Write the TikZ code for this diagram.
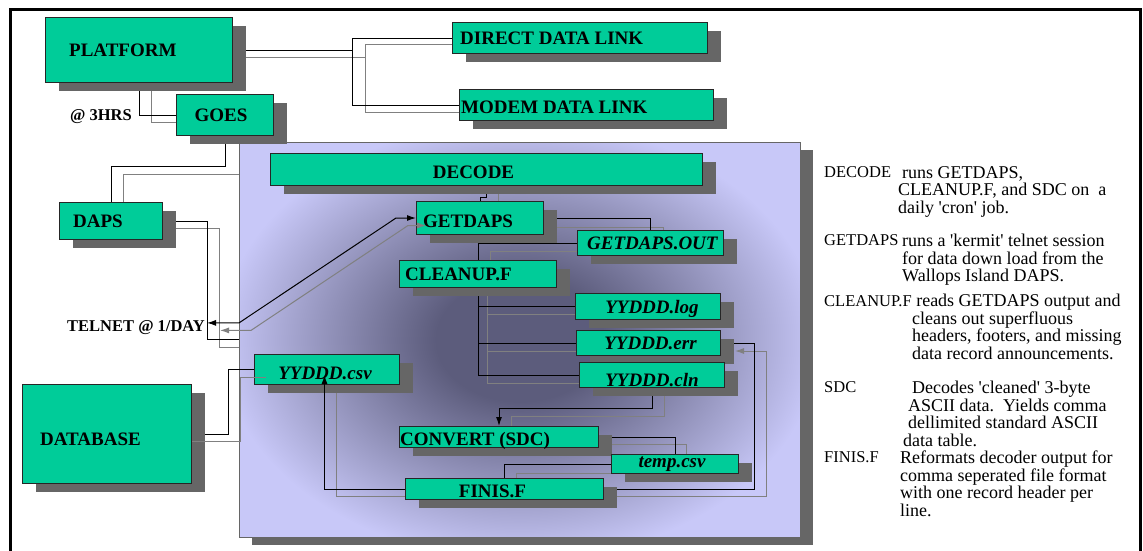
\documentclass[tikz,border=0pt]{standalone}
\usepackage{fontspec}
\setmainfont{Liberation Serif}
\usetikzlibrary{calc,shadows,arrows.meta}

\definecolor{boxgreen}{RGB}{0,204,153}
\definecolor{shadowgray}{RGB}{102,102,102}
\definecolor{lavender}{RGB}{200,200,248}
\definecolor{coredark}{RGB}{92,92,124}
\definecolor{echogray}{RGB}{128,128,128}
\pgfdeclareradialshading{coreglow}{\pgfpointorigin}{color(0bp)=(coredark); color(7bp)=(coredark); color(25bp)=(lavender); color(50bp)=(lavender)}

\pgfdeclarelayer{back}
\pgfdeclarelayer{lines}
\pgfsetlayers{back,lines,main}

\tikzset{
  box/.style={draw=black!85, line width=1pt, fill=boxgreen, inner sep=0pt, anchor=north west,
    drop shadow={shadow xshift=13pt, shadow yshift=-8pt, fill=shadowgray, opacity=1}},
  panel/.style={draw=black!60, line width=0.8pt, fill=lavender, inner sep=0pt, anchor=north west,
    minimum width=561pt, minimum height=395pt,
    drop shadow={shadow xshift=13pt, shadow yshift=-8pt, fill=shadowgray, opacity=1},
    path picture={\shade[shading=coreglow] (path picture bounding box.center) ellipse [x radius=300pt, y radius=220pt];}},
  lab/.style={inner sep=0pt, text height=13pt, text depth=0pt, font=\fontsize{19}{19}\selectfont\bfseries},
  ilab/.style={lab, font=\fontsize{19}{19}\selectfont\bfseries\itshape},
  tag/.style={inner sep=0pt, text height=11pt, text depth=0pt, font=\fontsize{16.5}{16.5}\selectfont\bfseries},
  note/.style={inner sep=0pt, anchor=north west, align=left, font=\fontsize{18}{17.5}\selectfont},
  term/.style={note, font=\fontsize{16.5}{17.5}\selectfont},
  wire/.style={draw=black, line width=1pt},
  echo/.style={draw=echogray, line width=1pt},
}

\begin{document}
\begin{tikzpicture}[x=1pt, y=-1pt, >={Latex[length=9pt,width=6pt]}]
    \useasboundingbox (0,0) rectangle (1143,550);

    % Frame
    \draw[line width=3pt] (10,553) -- (10,9) -- (1140,9) -- (1140,553);

    % Processing panel
    \begin{pgfonlayer}{back}
    \node[panel] (core) at (239,142) {};
    \end{pgfonlayer}

    % Acquisition boxes
    \node[box, minimum width=187pt, minimum height=65pt] (plat) at (45,17) {};
    \node[lab, anchor=west] (platT) at ([xshift=24pt]plat.west) {PLATFORM};
    \node[box, minimum width=97pt, minimum height=41pt] (goes) at (176,94) {};
    \node[lab] (goesT) at ([xshift=-4pt]goes.center) {GOES};
    \node[box, minimum width=103pt, minimum height=37pt] (daps) at (59,202) {};
    \node[lab, anchor=west] (dapsT) at ([xshift=14pt]daps.west) {DAPS};
    \node[box, minimum width=255pt, minimum height=31pt] (direct) at (452,22) {};
    \node[lab, anchor=west] (directT) at ([xshift=8pt]direct.west) {DIRECT DATA LINK};
    \node[box, minimum width=254pt, minimum height=31pt] (modem) at (459,89) {};
    \node[lab, anchor=west] (modemT) at ([xshift=2pt,yshift=-1.5pt]modem.west) {MODEM DATA LINK};
    \node[box, minimum width=169pt, minimum height=99pt] (dbase) at (22,384) {};
    \node[lab, anchor=west] (dbaseT) at ([xshift=18pt,yshift=-5pt]dbase.west) {DATABASE};
    \node[tag, anchor=east] (hrs) at (132,115) {@ 3HRS};
    \node[tag, anchor=east] (telnet) at (205,326) {TELNET @ 1/DAY};

    % Decoder boxes
    \node[box, minimum width=432pt, minimum height=32pt] (decode) at (270,153) {};
    \node[lab] (decodeT) at ([xshift=-13pt,yshift=-2pt]decode.center) {DECODE};
    \node[box, minimum width=127pt, minimum height=33pt] (getdaps) at (416,201) {};
    \node[lab, anchor=west] (getdapsT) at ([xshift=7pt,yshift=-3pt]getdaps.west) {GETDAPS};
    \node[box, minimum width=146pt, minimum height=25pt] (gout) at (577,230) {};
    \node[ilab, anchor=west] (goutT) at ([xshift=10pt]gout.west) {GETDAPS.OUT};
    \node[box, minimum width=157pt, minimum height=27pt] (cleanup) at (399,260) {};
    \node[lab, anchor=west] (cleanupT) at ([xshift=6pt]cleanup.west) {CLEANUP.F};
    \node[box, minimum width=145pt, minimum height=26pt] (ylog) at (575,293) {};
    \node[ilab] (ylogT) at ([xshift=4pt]ylog.center) {YYDDD.log};
    \node[box, minimum width=144pt, minimum height=25pt] (yerr) at (576,330) {};
    \node[ilab] (yerrT) at ([xshift=2pt]yerr.center) {YYDDD.err};
    \node[box, minimum width=145pt, minimum height=25pt] (ycln) at (579,362) {};
    \node[ilab] (yclnT) at ([yshift=-5pt]ycln.center) {YYDDD.cln};
    \node[box, minimum width=145pt, minimum height=30pt] (ycsv) at (254,354) {};
    \node[ilab] (ycsvT) at ([xshift=-2pt,yshift=-3pt]ycsv.center) {YYDDD.csv};
    \node[box, minimum width=199pt, minimum height=21pt] (convert) at (399,426) {};
    \node[lab, anchor=west] (convertT) at ([xshift=1pt,yshift=-1.5pt]convert.west) {CONVERT (SDC)};
    \node[box, minimum width=127pt, minimum height=19pt] (tempcsv) at (611,454) {};
    \node[ilab] (tempcsvT) at ([xshift=-3pt,yshift=3pt]tempcsv.center) {temp.csv};
    \node[box, minimum width=198pt, minimum height=21pt] (finis) at (405,478) {};
    \node[lab] (finisT) at ([xshift=-12pt,yshift=-2pt]finis.center) {FINIS.F};

    \coordinate (bus) at (352,0);

    % Connectors behind the boxes
    \begin{pgfonlayer}{lines}
    % platform to the data links
    \draw[echo] ($(plat.east)+(0,7.5)$) -- ++(133,0);
    \draw[echo] ($(direct.west)+(0,6)$) -| ($(modem.west)+(-94,7.5)$) -- ($(modem.west)+(0,7.5)$);
    \draw[wire] (plat.east) -- (plat.east -| bus);
    \draw[wire] (direct.west) -| (bus |- modem.west) -- (modem.west);
    % platform to goes
    \draw[echo] ($(plat.south)+(12,0)$) |- ($(goes.west)+(0,7.5)$);
    \draw[wire] (plat.south) |- (goes.west);
    % goes to daps
    \draw[echo] ($(core.north west)+(0,32)$) -| ($(daps.north)+(12,0)$);
    \draw[wire] (goes.south) |- ($(daps.north)+(0,-36)$) -- (daps.north);
    % daps to panel
    \draw[echo] ($(daps.east)+(0,7.5)$) -| ($(core.west)+(-20,7.5)$) -- ($(core.west)+(0,7.5)$);
    \draw[wire] (daps.east) -| ($(core.west)+(-32,0)$) -- (core.west);
    % database to csv
    \draw[wire] (dbase.east) -| ($(ycsv.west)+(-26,0)$) -- (ycsv.west);
    % decode to getdaps
    \draw[echo] ($(decode.south)+(12,0)$) -- ($(getdaps.north)+(18.5,0)$);
    \draw[wire] (decode.south) |- ($(getdaps.north)+(0,-4)$) -- (getdaps.north);
    % getdaps to its output
    \draw[echo] ($(getdaps.east)+(0,9)$) -| ($(gout.north)+(13,0)$);
    \draw[wire] (getdaps.east) -| (gout.north);
    % output to cleanup
    \draw[echo] ($(gout.west)+(0,8)$) -| ($(cleanup.north)+(12,0)$);
    \draw[wire] (gout.west) -| (cleanup.north);
    % cleanup to the day files
    \draw[echo] ($(cleanup.south)+(9,0)$) |- ($(ylog.west)+(0,8)$);
    \draw[echo] ($(cleanup.south)+(9,0)$) |- ($(yerr.west)+(0,8)$);
    \draw[echo] ($(cleanup.south)+(9,0)$) |- ($(ycln.west)+(0,8)$);
    \draw[wire] (cleanup.south) |- (ylog.west);
    \draw[wire] (cleanup.south) |- (yerr.west);
    \draw[wire] (cleanup.south) |- (ycln.west);
    % cln to convert
    \draw[echo] ($(ycln.south)+(12,0)$) |- ($(convert.north)+(12,-10)$) -- ($(convert.north)+(12,0)$);
    \draw[wire, ->] (ycln.south) |- ($(convert.north)+(0,-18)$) -- (convert.north);
    % convert to temp
    \draw[echo] ($(convert.east)+(0,7.5)$) -| ($(tempcsv.north)+(11,0)$);
    \draw[wire] (convert.east) -| (tempcsv.north);
    % temp to finis
    \draw[echo] ($(tempcsv.west)+(0,9)$) -| ($(finis.north)+(12,0)$);
    \draw[wire] (tempcsv.west) -| (finis.north);
    % finis back to csv and err
    \draw[echo] ($(finis.west)+(0,7.5)$) -| ($(ycsv.south)+(9.5,0)$);
    \draw[echo, ->] ($(finis.east)+(0,7.5)$) -| ($(yerr.east)+(45,8)$) -- ($(yerr.east)+(14,8)$);
    \draw[wire, ->] (finis.east) -| ($(yerr.east)+(33,0)$) -- (yerr.east);
    \end{pgfonlayer}

    % Connectors over the boxes
    \draw[wire, <->] ($(core.west)+(-32,-17)$) -- ($(core.west)+(0,-17)$) -- ($(getdaps.west)+(-20,0)$) -- (getdaps.west);
    \draw[echo, <->] ($(core.west)+(-19,-9.5)$) -- ($(core.west)+(12,-9.5)$) -- ($(getdaps.west)+(-8,7.5)$) -- ($(getdaps.west)+(10,7.5)$);
    \draw[echo] ($(dbase.east)+(0,7.5)$) -| ($(ycsv.west)+(-14,8)$) -- ($(ycsv.west)+(12,8)$);
    \draw[wire, ->] (finis.west) -| ($(ycsv.south)+(-2.5,-10)$);

    % Notes
    \node[term] (tDecode) at (824,166.5) {DECODE};
    \node[note] (dDecode) at (898,166) {\hspace*{4pt}runs GETDAPS,\\CLEANUP.F, and SDC on\ \ a\\daily \textquotesingle cron\textquotesingle{} job.};
    \node[term] (tGet) at (824,234.5) {GETDAPS};
    \node[note] (dGet) at (902,234) {runs a \textquotesingle kermit\textquotesingle{} telnet session\\for data down load from the\\Wallops Island DAPS.};
    \node[note] (tClean) at (824,294) {{\fontsize{16.5}{17.5}\selectfont CLEANUP.F} reads GETDAPS output and};
    \node[note] (dClean) at (912,311.5) {cleans out superfluous\\headers, footers, and missing\\data record announcements.};
    \node[term] (tSdc) at (824,381.5) {SDC};
    \node[note] (dSdc) at (903,381) {\hspace*{9pt}Decodes \textquotesingle cleaned\textquotesingle{} 3-byte\\\hspace*{5pt}ASCII data.\ \ Yields comma\\\hspace*{5pt}dellimited standard ASCII\\data table.};
    \node[term] (tFinis) at (824,451.5) {FINIS.F};
    \node[note] (dFinis) at (900,451) {Reformats decoder output for\\comma seperated file format\\with one record header per\\line.};
\end{tikzpicture}
\end{document}
